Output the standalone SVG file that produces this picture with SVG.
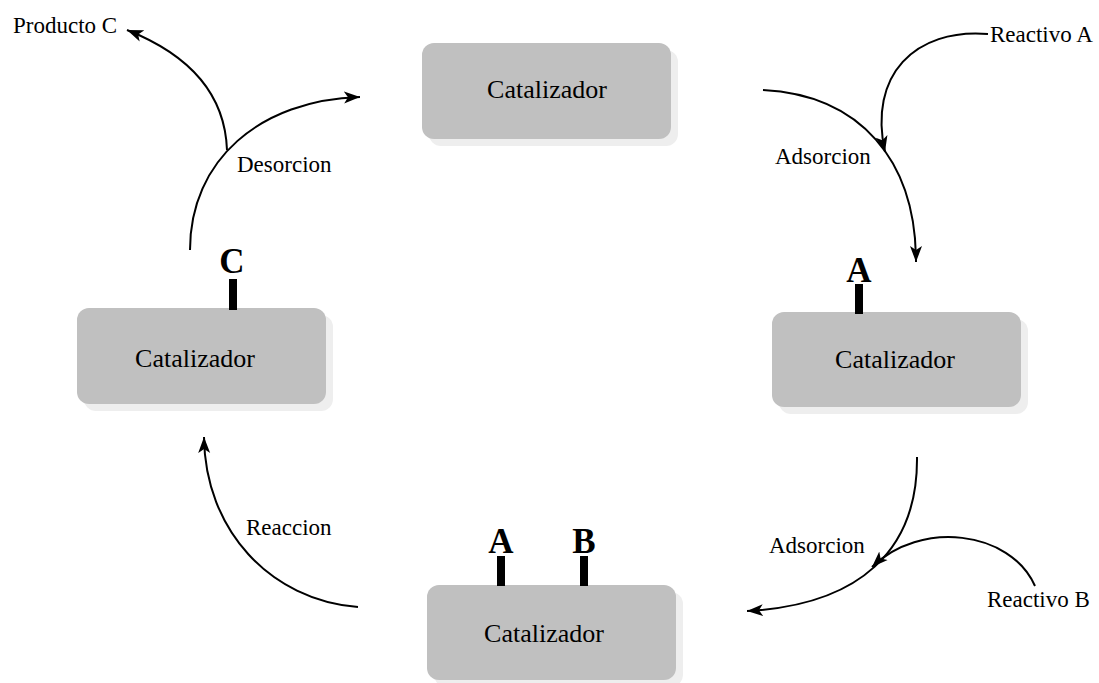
<svg xmlns="http://www.w3.org/2000/svg" width="1099" height="683" viewBox="0 0 1099 683">
<style>
.shadow{fill:#eeeeee}
.box{fill:#c0c0c0}
.stem{fill:#000}
.conn{fill:none;stroke:#000;stroke-width:2;marker-end:url(#arr)}
</style>
<defs>
<marker id="arr" markerUnits="userSpaceOnUse" markerWidth="20" markerHeight="14" refX="16" refY="6" orient="auto" viewBox="0 0 20 12">
<path d="M0,0 L16,6 L0,12 L4,6 Z" fill="#000"/>
</marker>
</defs>
<rect width="1099" height="683" fill="#fff"/>
<g id="cat-top">
<rect class="shadow" x="429" y="50" width="249" height="96" rx="12"/>
<rect class="box" x="422" y="43" width="249" height="96" rx="12"/>
<text x="547" y="98" font-family="Liberation Serif" font-size="26" text-anchor="middle">Catalizador</text>
</g>
<g id="cat-right">
<rect class="shadow" x="779" y="319" width="249" height="95" rx="12"/>
<rect class="box" x="772" y="312" width="249" height="95" rx="12"/>
<text x="895" y="368" font-family="Liberation Serif" font-size="26" text-anchor="middle">Catalizador</text>
<rect class="stem" x="855" y="284" width="8" height="30"/>
<text x="859" y="282" font-family="Liberation Serif" font-size="35" font-weight="bold" text-anchor="middle">A</text>
</g>
<g id="cat-bottom">
<rect class="shadow" x="434" y="592" width="249" height="95" rx="12"/>
<rect class="box" x="427" y="585" width="249" height="95" rx="12"/>
<text x="544" y="642" font-family="Liberation Serif" font-size="26" text-anchor="middle">Catalizador</text>
<rect class="stem" x="497" y="556" width="8" height="30"/>
<rect class="stem" x="580" y="556" width="8" height="30"/>
<text x="501" y="553" font-family="Liberation Serif" font-size="35" font-weight="bold" text-anchor="middle">A</text>
<text x="584" y="553" font-family="Liberation Serif" font-size="35" font-weight="bold" text-anchor="middle">B</text>
</g>
<g id="cat-left">
<rect class="shadow" x="84" y="315" width="249" height="96" rx="12"/>
<rect class="box" x="77" y="308" width="249" height="96" rx="12"/>
<text x="195" y="367" font-family="Liberation Serif" font-size="26" text-anchor="middle">Catalizador</text>
<rect class="stem" x="229" y="279" width="8" height="31"/>
<text x="232" y="273" font-family="Liberation Serif" font-size="35" font-weight="bold" text-anchor="middle">C</text>
</g>
<g id="connectors">
<path class="conn" d="M763,90 C860,95 916,160 916,262"/>
<path class="conn" d="M988,34 C915,28 868,75 885,152"/>
<path class="conn" d="M917,457 C918,550 860,605 747,611"/>
<path class="conn" d="M1035,586 C1010,530 920,520 872,567"/>
<path class="conn" d="M358,607 C270,600 205,530 204,437"/>
<path class="conn" d="M190,250 C190,160 260,100 360,97"/>
<path class="conn" d="M227,150 C225,95 190,55 127,30"/>
</g>
<g id="labels">
<text x="990" y="42" font-family="Liberation Serif" font-size="23">Reactivo A</text>
<text x="775" y="164" font-family="Liberation Serif" font-size="23">Adsorcion</text>
<text x="769" y="553" font-family="Liberation Serif" font-size="23">Adsorcion</text>
<text x="987" y="607" font-family="Liberation Serif" font-size="23">Reactivo B</text>
<text x="246" y="535" font-family="Liberation Serif" font-size="23">Reaccion</text>
<text x="237" y="172" font-family="Liberation Serif" font-size="23">Desorcion</text>
<text x="13" y="33" font-family="Liberation Serif" font-size="23">Producto C</text>
</g>
</svg>
